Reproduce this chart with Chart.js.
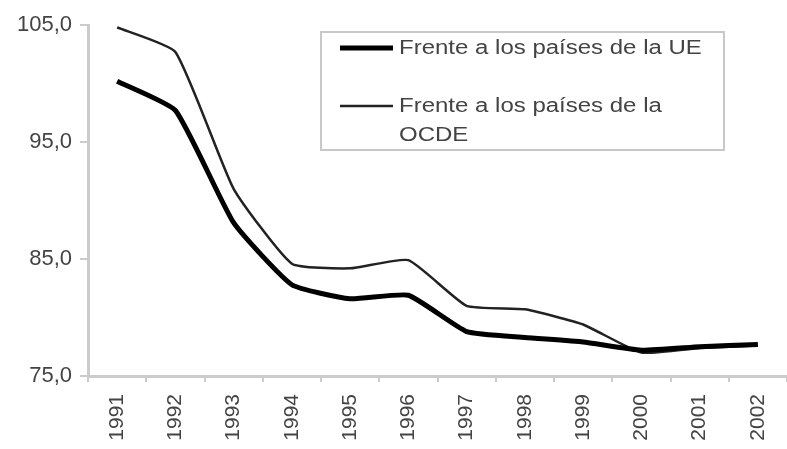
<!DOCTYPE html>
<html>
<head>
<meta charset="utf-8">
<script src="https://cdn.jsdelivr.net/npm/chart.js@4/dist/chart.umd.min.js"></script>
<style>
html,body{margin:0;padding:0;background:#fff;overflow:hidden;}
#wrap{width:787px;height:449px;}
</style>
</head>
<body>
<div id="wrap"><canvas id="c" width="787" height="449"></canvas></div>
<script>
const years = ["1991","1992","1993","1994","1995","1996","1997","1998","1999","2000","2001","2002"];
const ueValues = [100.2, 97.7, 88.1, 82.8, 81.6, 81.9, 78.8, 78.3, 77.9, 77.2, 77.5, 77.7];
const ocdeValues = [104.8, 102.7, 91.0, 84.6, 84.2, 84.9, 81.0, 80.7, 79.4, 77.0, 77.4, 77.6];
const seriesLabels = ["Frente a los países de la UE", "Frente a los países de la OCDE"];
const yTicks = [75, 85, 95, 105];

const FONT = "Arial, 'Liberation Sans', sans-serif";
const TEXT = "#444";

const boxLegend = {
  id: 'boxLegend',
  afterDraw(chart) {
    const ctx = chart.ctx;
    const x0 = 321, y0 = 32, w = 403, h = 118;
    const sx = 1.2;
    ctx.save();
    ctx.strokeStyle = '#c8c8c8';
    ctx.lineWidth = 2;
    ctx.strokeRect(x0, y0, w, h);
    ctx.font = "20px " + FONT;
    ctx.fillStyle = TEXT;
    ctx.textBaseline = 'middle';
    const rows = [48, 106];
    chart.data.datasets.forEach((ds, i) => {
      const y = rows[i];
      ctx.strokeStyle = ds.borderColor;
      ctx.lineWidth = ds.borderWidth;
      ctx.beginPath();
      ctx.moveTo(340, y);
      ctx.lineTo(393, y);
      ctx.stroke();
      const maxW = 318;
      const words = ds.label.split(' ');
      let lines = [], cur = '';
      words.forEach(wd => {
        const t = cur ? cur + ' ' + wd : wd;
        if (ctx.measureText(t).width * sx > maxW && cur) { lines.push(cur); cur = wd; }
        else cur = t;
      });
      if (cur) lines.push(cur);
      lines.forEach((ln, k) => {
        ctx.save();
        ctx.translate(399, y + k * 29);
        ctx.scale(sx, 1);
        ctx.fillText(ln, 0, 0);
        ctx.restore();
      });
    });
    ctx.restore();
  }
};

new Chart(document.getElementById('c'), {
  type: 'line',
  data: {
    labels: years,
    datasets: [
      { label: seriesLabels[0], data: ueValues, borderColor: '#000', borderWidth: 5, pointRadius: 0, tension: 0.15, fill: false },
      { label: seriesLabels[1], data: ocdeValues, borderColor: '#222', borderWidth: 2.5, pointRadius: 0, tension: 0.15, fill: false }
    ]
  },
  options: {
    responsive: false,
    animation: false,
    layout: { padding: { top: 25, right: 0, left: 0, bottom: 0 } },
    plugins: { legend: { display: false }, tooltip: { enabled: false } },
    scales: {
      x: {
        offset: true,
        grid: { offset: true, drawOnChartArea: false, drawTicks: true, tickLength: 6, color: '#ccc', lineWidth: 2 },
        border: { color: '#ccc', width: 3 },
        ticks: { minRotation: 90, maxRotation: 90, autoSkip: false, padding: 12, color: TEXT, font: { family: FONT, size: 21 } },
        afterFit(s) { s.height = 73; s.paddingRight = 0; s.paddingLeft = 0; }
      },
      y: {
        min: 75, max: 105,
        afterBuildTicks(s) { s.ticks = yTicks.map(v => ({ value: v })); },
        grid: { drawOnChartArea: false, drawTicks: true, tickLength: 8, color: '#ccc', lineWidth: 2 },
        border: { color: '#ccc', width: 3 },
        ticks: { padding: 8, color: TEXT, font: { family: FONT, size: 22 },
          callback: v => v.toFixed(1).replace('.', ',') },
        afterFit(s) { s.width = 88; }
      }
    }
  },
  plugins: [boxLegend]
});
</script>
</body>
</html>
